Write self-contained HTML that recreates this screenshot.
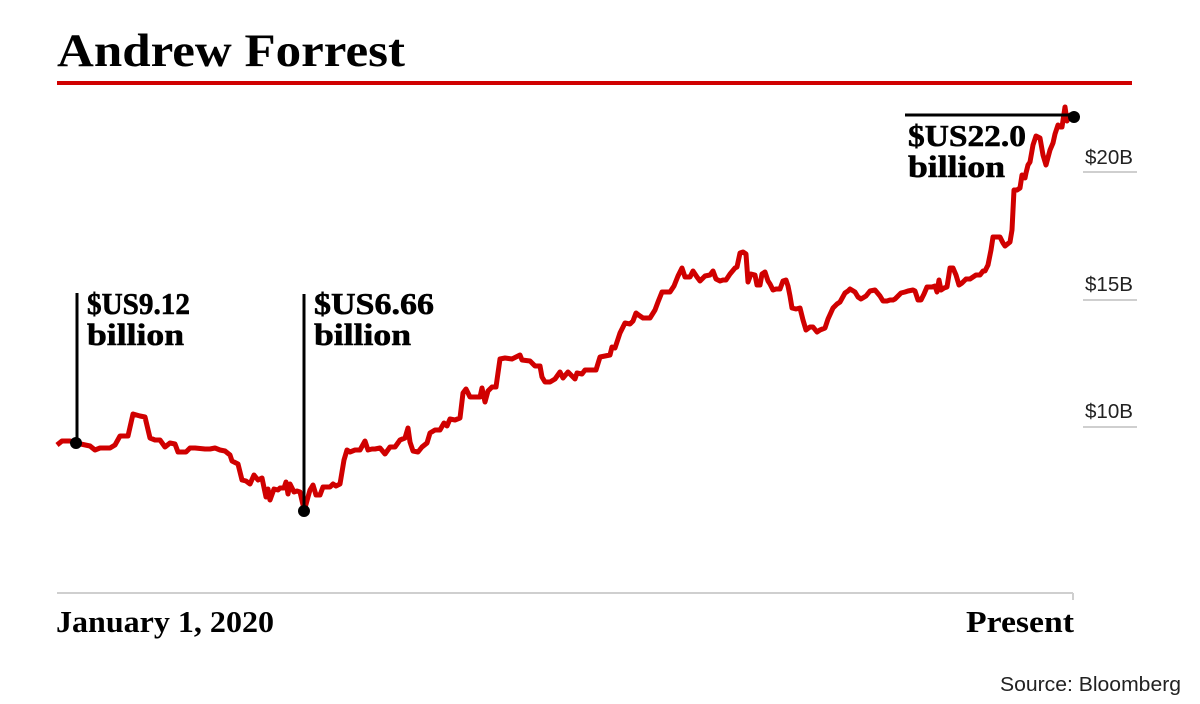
<!DOCTYPE html>
<html><head><meta charset="utf-8"><style>html,body{margin:0;padding:0;background:#fff;width:1200px;height:704px;overflow:hidden}</style></head>
<body>
<svg width="1200" height="704" viewBox="0 0 1200 704" xmlns="http://www.w3.org/2000/svg">
<text x="57" y="66" font-family="Liberation Serif, serif" font-weight="bold" font-size="47" textLength="348" lengthAdjust="spacingAndGlyphs" fill="#000">Andrew Forrest</text>
<rect x="57" y="81" width="1075" height="4" fill="#d00000"/>
<g stroke="#cfcfcf" stroke-width="2">
<line x1="1083" y1="172" x2="1137" y2="172"/>
<line x1="1083" y1="300" x2="1137" y2="300"/>
<line x1="1083" y1="427" x2="1137" y2="427"/>
<line x1="57" y1="593" x2="1073" y2="593"/>
<line x1="1073" y1="593" x2="1073" y2="600"/>
</g>
<g font-family="Liberation Sans, sans-serif" font-size="20" fill="#222">
<text x="1085" y="164" textLength="48" lengthAdjust="spacingAndGlyphs">$20B</text>
<text x="1085" y="291" textLength="48" lengthAdjust="spacingAndGlyphs">$15B</text>
<text x="1085" y="418" textLength="48" lengthAdjust="spacingAndGlyphs">$10B</text>
</g>
<polyline fill="none" stroke="#d00000" stroke-width="5" stroke-linejoin="round" points="57,445 62,441 70,441 76,443 90,446 95,450 100,448 110,448 115,445 120,436 128,436 133,414 140,416 145,417 150,438 155,440 160,440 165,447 170,443 175,444 178,452 186,452 190,448 195,448 205,449 210,449 215,448 220,450 225,451 230,455 232,461 238,464 242,480 246,481 250,484 254,475 258,480 262,478 266,497 268,489 270,500 274,489 278,490 280,488 284,488 286,482 288,494 290,484 294,492 297,491 300,492 303,505 305,508 308,497 310,490 313,485 316,495 320,495 323,487 326,487 330,487 333,484 336,486 340,484 344,460 347,450 350,452 355,450 360,450 365,441 368,450 372,449 375,449 380,448 385,454 390,447 395,447 400,440 405,438 408,428 410,442 413,451 418,452 422,447 427,443 430,433 435,430 440,430 444,423 447,426 450,419 455,420 460,418 463,393 466,389 470,397 480,397 482,388 485,402 488,391 492,387 496,387 500,359 505,358 512,359 520,355 522,360 530,361 535,366 540,366 542,377 545,382 550,382 555,379 560,372 563,378 568,372 573,377 575,379 577,373 582,374 585,370 590,370 596,370 600,357 605,356 610,355 612,347 615,348 620,333 625,323 630,324 633,321 636,313 640,316 643,318 650,318 655,310 658,302 662,292 665,292 670,292 674,286 678,276 682,268 685,277 690,277 693,271 697,277 700,281 705,276 710,275 713,271 716,279 720,281 723,280 726,280 730,274 735,268 737,267 740,253 743,252 746,254 748,282 751,274 755,275 757,285 760,285 762,274 765,272 768,281 770,284 773,290 776,289 780,289 783,281 786,280 788,286 790,296 792,308 796,309 800,308 803,320 806,330 810,327 813,327 817,332 820,330 825,328 828,319 833,308 837,304 840,302 845,293 848,291 850,289 855,292 858,297 861,299 866,296 870,291 875,290 880,296 883,301 887,301 890,300 893,300 895,299 898,296 901,293 905,292 908,291 913,290 915,291 918,300 921,300 924,294 927,287 932,287 935,286 937,292 939,280 941,290 944,288 947,287 950,268 953,268 956,275 959,285 962,283 966,279 970,279 976,275 980,275 983,271 985,271 988,265 991,250 993,237 996,237 1000,237 1003,243 1005,246 1010,242 1012,230 1014,190 1017,190 1020,188 1022,175 1025,178 1026,173 1028,165 1030,162 1033,145 1036,136 1040,138 1043,155 1046,165 1050,150 1053,143 1055,134 1058,125 1060,127 1062,127 1065,107 1067,121 1070,115 1073,118"/>
<g stroke="#000" stroke-width="3">
<line x1="77" y1="293" x2="77" y2="443"/>
<line x1="304" y1="294" x2="304" y2="511"/>
<line x1="905" y1="115" x2="1073" y2="115"/>
</g>
<circle cx="76" cy="443" r="6" fill="#000"/>
<circle cx="304" cy="511" r="6" fill="#000"/>
<circle cx="1074" cy="117" r="6" fill="#000"/>
<g font-family="Liberation Serif, serif" font-weight="bold" font-size="31" fill="#000" stroke="#000" stroke-width="0.6">
<text x="87" y="314" textLength="103" lengthAdjust="spacingAndGlyphs">$US9.12</text>
<text x="87" y="345" textLength="97" lengthAdjust="spacingAndGlyphs">billion</text>
<text x="314" y="314" textLength="120" lengthAdjust="spacingAndGlyphs">$US6.66</text>
<text x="314" y="345" textLength="97" lengthAdjust="spacingAndGlyphs">billion</text>
<text x="908" y="146" textLength="118" lengthAdjust="spacingAndGlyphs">$US22.0</text>
<text x="908" y="177" textLength="97" lengthAdjust="spacingAndGlyphs">billion</text>
</g>
<g font-family="Liberation Serif, serif" font-weight="bold" font-size="31" fill="#000">
<text x="56" y="632" textLength="218" lengthAdjust="spacingAndGlyphs">January 1, 2020</text>
<text x="966" y="632" textLength="108" lengthAdjust="spacingAndGlyphs">Present</text>
</g>
<text x="1000" y="691" font-family="Liberation Sans, sans-serif" font-size="20" textLength="181" lengthAdjust="spacingAndGlyphs" fill="#222">Source: Bloomberg</text>
</svg>
</body></html>
